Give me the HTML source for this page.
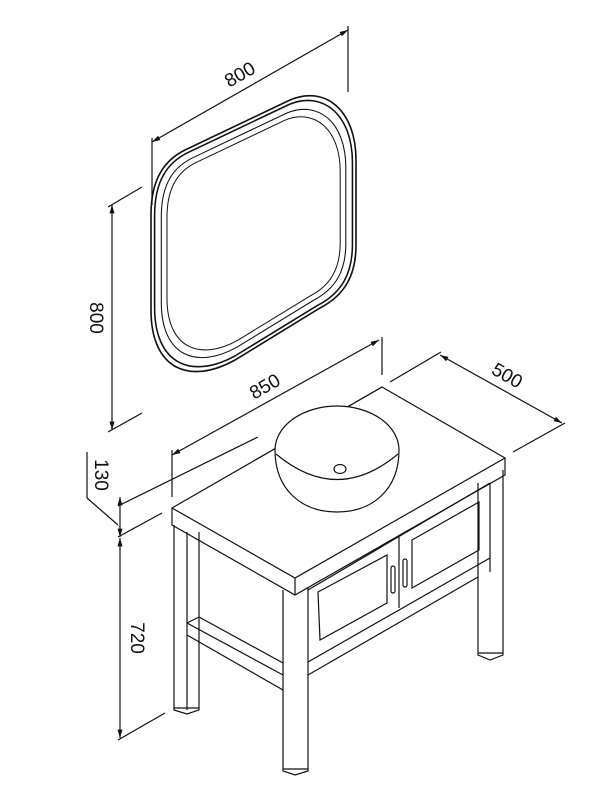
<!DOCTYPE html>
<html><head><meta charset="utf-8"><style>
html,body{margin:0;padding:0;background:#fff;}
svg{display:block;}
text{font-family:"Liberation Sans",sans-serif;font-size:19px;fill:#111;}
</style></head><body>
<svg width="600" height="800" viewBox="0 0 600 800" xmlns="http://www.w3.org/2000/svg">
<defs>
<marker id="a" viewBox="0 0 10 6" refX="10" refY="3" markerWidth="9" markerHeight="5" orient="auto-start-reverse" markerUnits="userSpaceOnUse"><path d="M0,0 L10,3 L0,6 Z" fill="#111"/></marker>
<path id="m" d="M151,215 C151,178 165,160 185,150 L290,100 C325,85 356,110 356,160 L356,245 C356,275 345,295 320,308 L235,360 C190,385 151,370 151,310 Z"/>
</defs>
<g fill="none" stroke="#111" stroke-width="1.2">
<!-- mirror -->
<g stroke-width="1.6">
<use href="#m"/>
<use href="#m" transform="translate(254,232) scale(0.965) translate(-254,-232)"/>
<use href="#m" stroke-width="1.2" transform="translate(254,232) scale(0.9) translate(-254,-232)"/>
<use href="#m" stroke-width="1.2" transform="translate(254,232) scale(0.845) translate(-254,-232)"/>
</g>
<!-- mirror dims -->
<line x1="152" y1="142" x2="348" y2="30" marker-start="url(#a)" marker-end="url(#a)"/>
<line x1="152" y1="138" x2="152" y2="205"/>
<line x1="348" y1="26" x2="348" y2="92"/>
<line x1="112" y1="205" x2="112" y2="430" marker-start="url(#a)" marker-end="url(#a)"/>
<line x1="108" y1="207" x2="142" y2="187"/>
<line x1="108" y1="432" x2="142" y2="413"/>

<!-- vanity top -->
<path d="M382,387 L505,458 L295,578 L172,508 Z"/>
<path d="M505,458 L505,475 L295,595 L172,525 L172,508"/>
<line x1="295" y1="578" x2="295" y2="595"/>
<!-- legs -->
<path d="M283,590 L283,771 L295,775 L308,771 L308,588"/>
<line x1="283" y1="769" x2="308" y2="769"/>
<path d="M174,525 L174,710 L187,714 L199,710 L199,532"/>
<line x1="187" y1="532" x2="187" y2="710"/>
<line x1="174" y1="708" x2="199" y2="708"/>
<path d="M478,483 L478,655 L490,660 L503,655 L503,470"/>
<line x1="478" y1="653" x2="503" y2="653"/>
<!-- cabinet -->
<line x1="308" y1="590" x2="490" y2="483"/>
<line x1="490" y1="483" x2="490" y2="572"/>
<line x1="308" y1="662" x2="490" y2="558"/>
<line x1="308" y1="675" x2="478" y2="577"/>
<line x1="399" y1="537" x2="399" y2="608"/>
<path d="M318,592 L387,555 L387,603 L320,640 Z"/>
<path d="M412,540 L479,502 L479,550 L412,588 Z"/>
<rect x="391" y="566" width="4" height="27" rx="2"/>
<rect x="403" y="559" width="4" height="28" rx="2"/>
<!-- shelf -->
<line x1="199" y1="617" x2="283" y2="663"/>
<line x1="187" y1="623" x2="199" y2="617"/>
<line x1="187" y1="623" x2="283" y2="675"/>
<line x1="187" y1="635" x2="283" y2="690"/>
<!-- basin -->
<path d="M275,450 A62,44 0 0 1 399,450 C399,490 372,512 337,512 C302,512 275,490 275,450 Z" fill="#fff"/>
<path d="M276,454 Q337,505 398,454"/>
<ellipse cx="340" cy="469" rx="6" ry="4.5"/>
<!-- 850 -->
<line x1="172" y1="455" x2="379" y2="340" marker-start="url(#a)" marker-end="url(#a)"/>
<line x1="172" y1="450" x2="172" y2="497"/>
<line x1="382" y1="337" x2="382" y2="375"/>
<line x1="118" y1="506" x2="258" y2="437"/>
<!-- 500 -->
<line x1="440" y1="355" x2="562" y2="423" marker-start="url(#a)" marker-end="url(#a)"/>
<line x1="390" y1="382" x2="441" y2="352"/>
<line x1="513" y1="452" x2="565" y2="423"/>
<!-- 130 / 720 -->
<line x1="87" y1="452" x2="87" y2="498"/>
<line x1="87" y1="498" x2="118" y2="525"/>
<line x1="120" y1="497" x2="120" y2="537" marker-start="url(#a)" marker-end="url(#a)"/>
<line x1="118" y1="537" x2="162" y2="513"/>
<line x1="120" y1="538" x2="120" y2="738" marker-start="url(#a)" marker-end="url(#a)"/>
<line x1="118" y1="740" x2="165" y2="713"/>
</g>
<text transform="translate(243,80) rotate(-30)" text-anchor="middle">800</text>
<text transform="translate(90,318) rotate(90)" text-anchor="middle">800</text>
<text transform="translate(268,392) rotate(-30)" text-anchor="middle">850</text>
<text transform="translate(504,381) rotate(30)" text-anchor="middle">500</text>
<text transform="translate(95,475) rotate(90)" text-anchor="middle">130</text>
<text transform="translate(131,638) rotate(90)" text-anchor="middle">720</text>
</svg>
</body></html>
